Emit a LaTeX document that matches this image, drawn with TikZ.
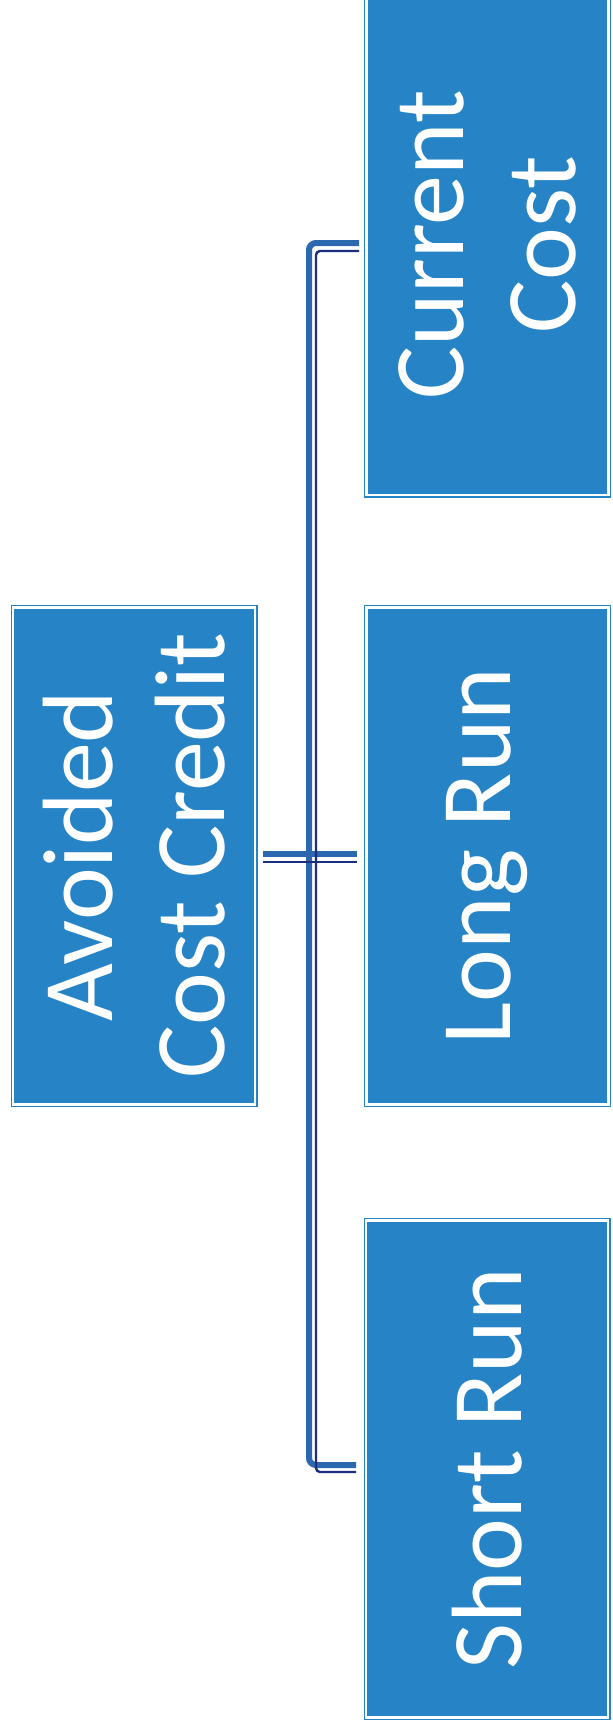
\documentclass[tikz,border=0pt]{standalone}
\usepackage{fontspec}
\setmainfont{Carlito}
\definecolor{boxblue}{RGB}{38,132,198}
\definecolor{linkblue}{RGB}{44,104,176}
\definecolor{linkdark}{RGB}{28,46,128}
\begin{document}
\begin{tikzpicture}[x=1pt,y=-1pt,
  cbox/.style={rotate=90, draw=boxblue, double=white, double distance=2.4pt, line width=1.3pt,
    fill=boxblue, inner sep=0pt, minimum width=497pt, minimum height=242pt,
    text=white, align=center, font=\fontsize{100}{112}\selectfont},
  linkthick/.style={draw=linkblue, line width=6pt, rounded corners=7pt},
  linkthin/.style={draw=linkdark, line width=2.4pt, rounded corners=4pt}]
\useasboundingbox (0,0) rectangle (613,1732);
\fill[white] (0,0) rectangle (613,1732);
\node[cbox] (acc) at (134,856) {Avoided\\Cost Credit};
\node[cbox, minimum width=500pt] (cur) at (487.5,245) {Current\\Cost};
\node[cbox] (lr) at (487.5,856) {Long Run};
\node[cbox] (sr) at (487,1469) {Short Run};
% connector thick
\coordinate (t1) at (359,243);
\coordinate (t2) at (309,243);
\coordinate (b2) at (309,1465);
\coordinate (b1) at (356,1465);
\coordinate (m1) at (263,854);
\coordinate (m2) at (357,854);
\draw[linkthick] (t1) -- (t2) -- (b2) -- (b1);
\draw[linkthick, rounded corners=0pt] (m1) -- (m2);
% connector thin
\coordinate (tt1) at (359,251);
\coordinate (tt2) at (316,251);
\coordinate (bb2) at (316,1472);
\coordinate (bb1) at (356,1472);
\coordinate (mm1) at (263,862);
\coordinate (mm2) at (357,862);
\draw[linkthin] (tt1) -- (tt2) -- (bb2) -- (bb1);
\draw[linkthin, rounded corners=0pt] (mm1) -- (mm2);
\end{tikzpicture}
\end{document}
